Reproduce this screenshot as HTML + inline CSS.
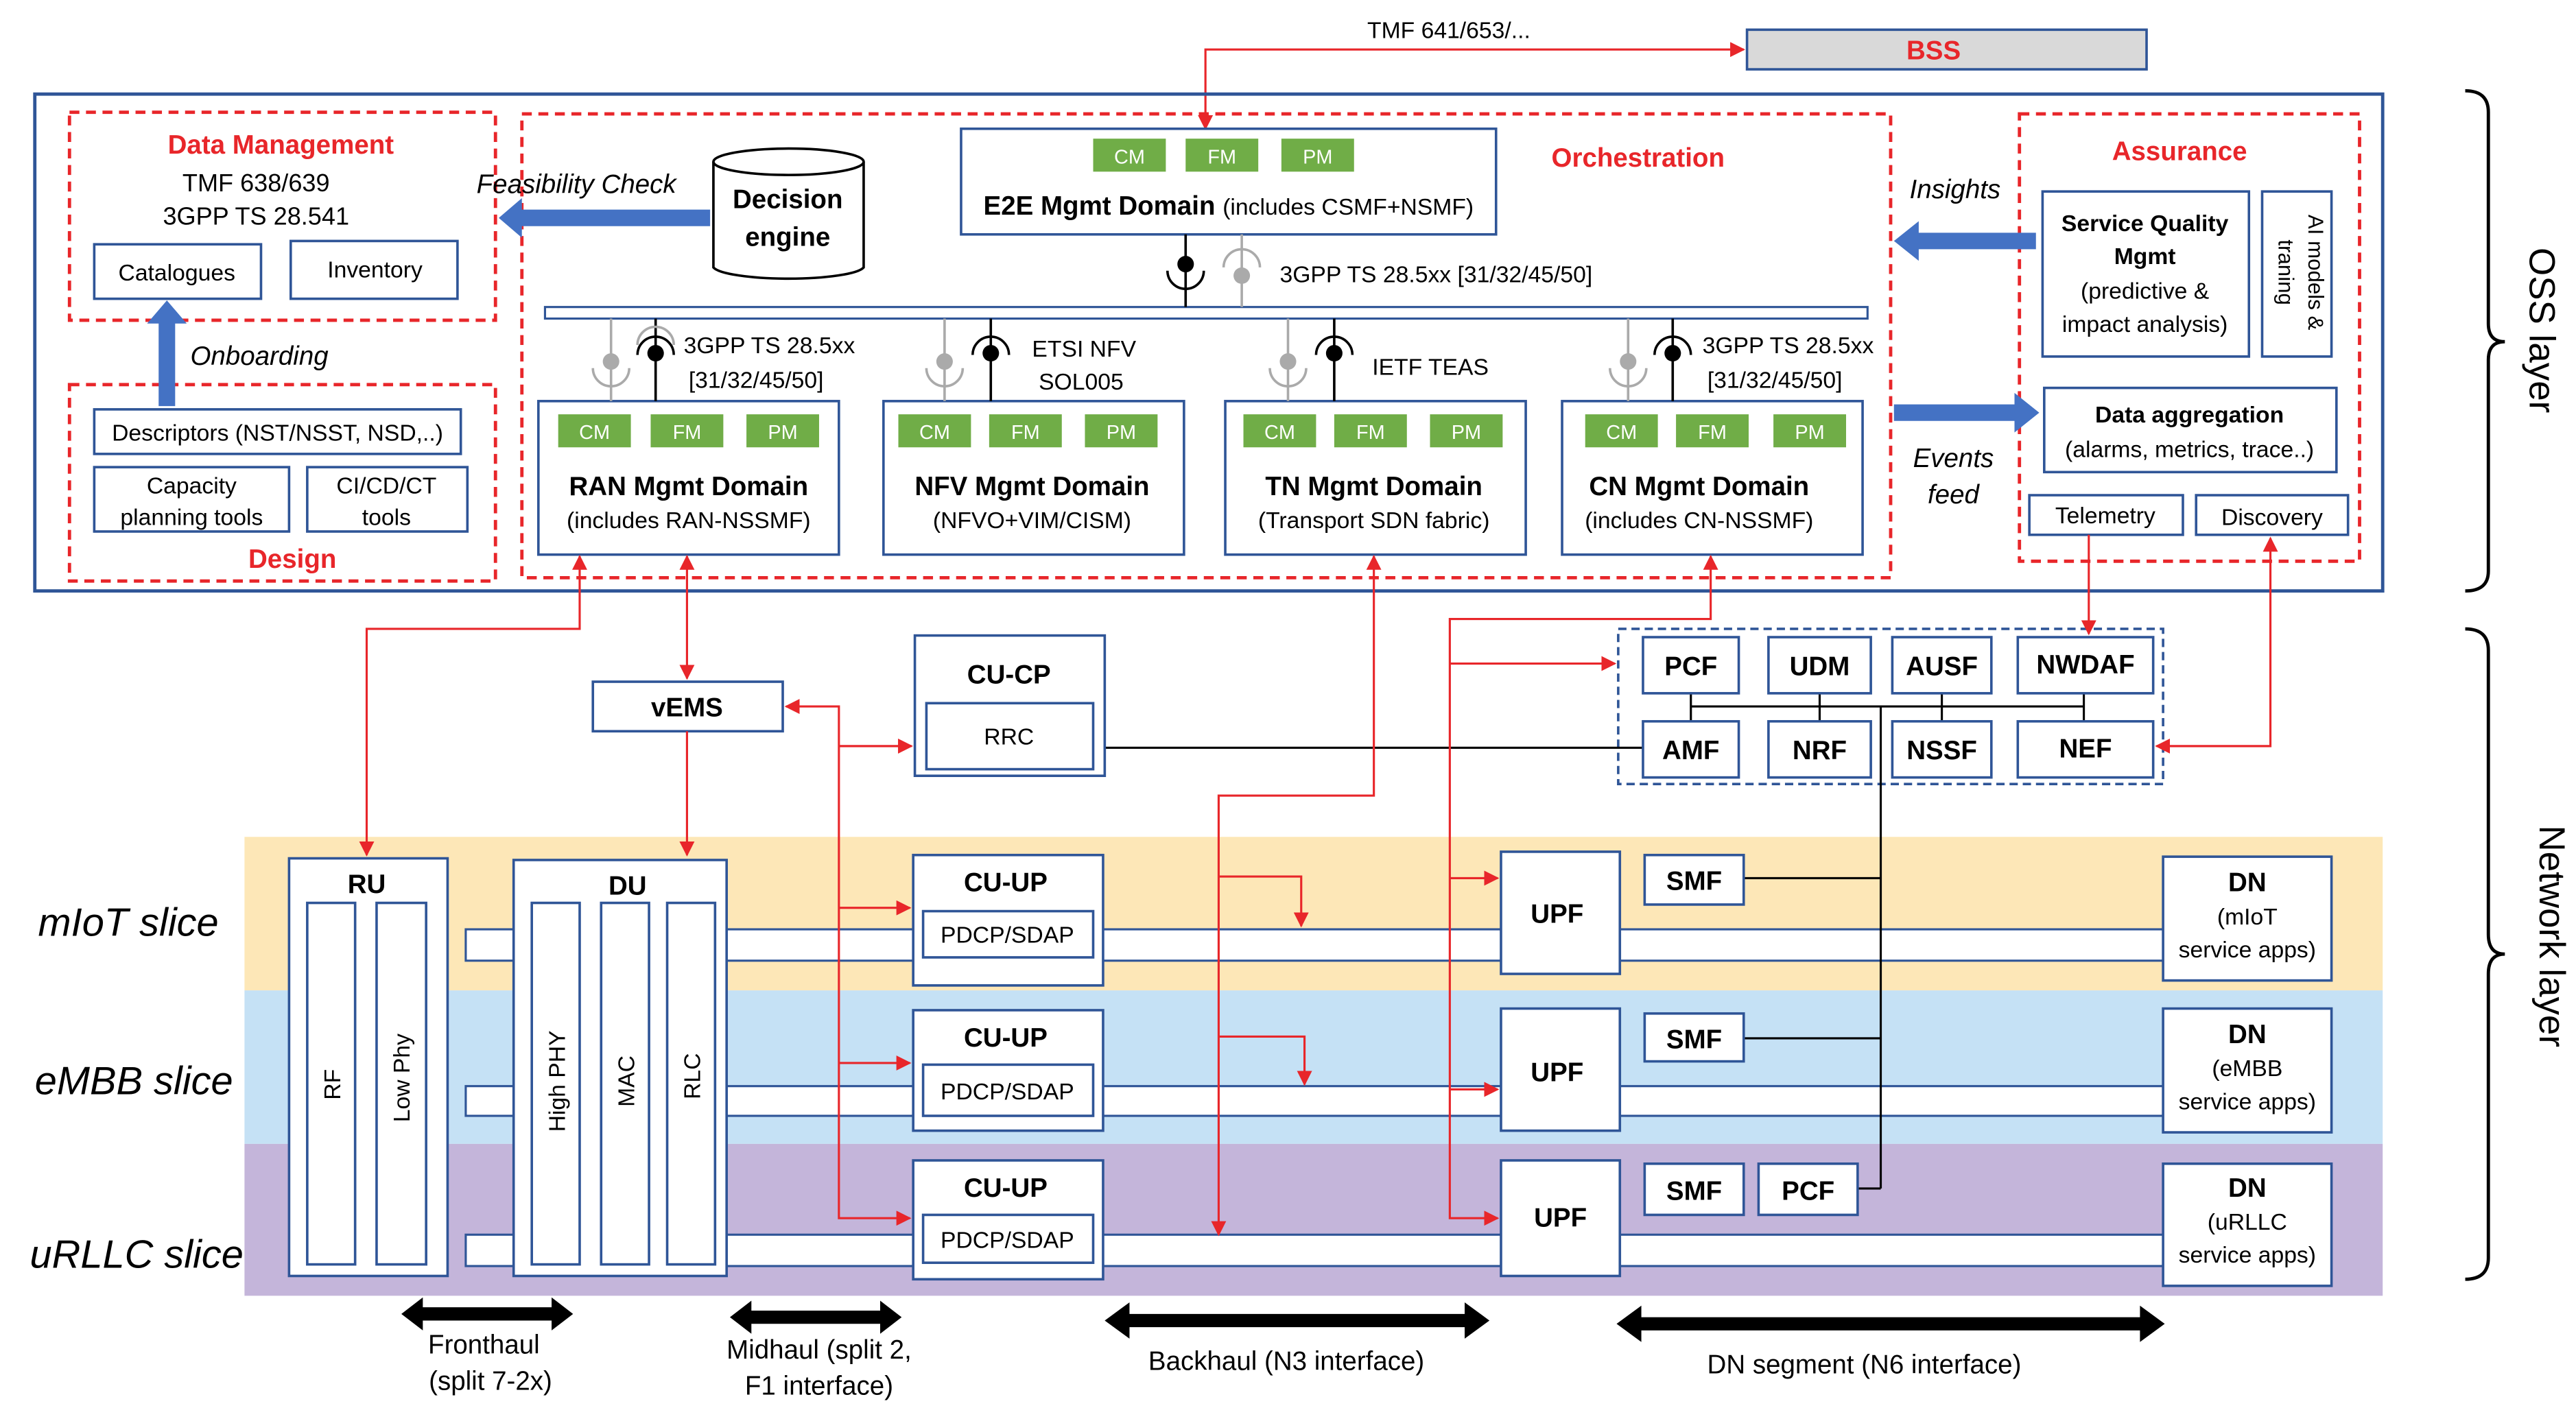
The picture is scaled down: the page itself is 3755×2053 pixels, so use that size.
<!DOCTYPE html>
<html><head><meta charset="utf-8"><style>
html,body{margin:0;padding:0;background:#fff;}
svg{display:block;}
text{font-family:"Liberation Sans",sans-serif;}
</style></head><body>
<svg width="3755" height="2053" viewBox="0 0 1560 853" xmlns="http://www.w3.org/2000/svg">
<defs>
<marker id="ar" viewBox="0 0 10 10" refX="9" refY="5" markerWidth="7" markerHeight="7" orient="auto-start-reverse"><path d="M0,0L10,5L0,10z" fill="#e8262a"/></marker>
</defs>
<rect width="1560" height="853" fill="#fff"/>
<!-- slices -->
<rect x="148" y="507" width="1295" height="93" fill="#fde7b7"/>
<rect x="148" y="600" width="1295" height="93" fill="#c5e1f5"/>
<rect x="148" y="693" width="1295" height="92" fill="#c4b5da"/>
<g font-style="italic" font-size="24" fill="#000">
<text x="23" y="567">mIoT slice</text>
<text x="21" y="663">eMBB slice</text>
<text x="18" y="768">uRLLC  slice</text>
</g>
<!-- pipes -->
<g fill="#fff" stroke="#2f5597" stroke-width="1.3">
<rect x="282" y="563" width="1028" height="19"/>
<rect x="282" y="658" width="1028" height="18"/>
<rect x="282" y="748" width="1028" height="19"/>
</g>
<!-- top BSS -->
<text x="828" y="23" font-size="14">TMF 641/653/...</text>
<rect x="1058" y="18" width="242" height="24" fill="#d9d9d9" stroke="#2f5597" stroke-width="1.5"/>
<text x="1171" y="36" font-size="16" font-weight="bold" fill="#e8262a" text-anchor="middle">BSS</text>
<path d="M730,78 V30 H1056" fill="none" stroke="#e8262a" stroke-width="1.3" marker-start="url(#ar)" marker-end="url(#ar)"/>
<!-- OSS box -->
<rect x="21" y="57" width="1422" height="301" fill="none" stroke="#2f5597" stroke-width="2"/>
<g fill="none" stroke="#e8262a" stroke-width="2" stroke-dasharray="6,4">
<rect x="42" y="68" width="258" height="126"/>
<rect x="42" y="233" width="258" height="119"/>
<rect x="316" y="69" width="829" height="281"/>
<rect x="1223" y="69" width="206" height="271"/>
</g>
<g font-size="15" text-anchor="middle">
<text x="170" y="93" font-size="16" font-weight="bold" fill="#e8262a">Data Management</text>
<text x="155" y="116">TMF 638/639</text>
<text x="155" y="136">3GPP TS 28.541</text>
<text x="177" y="344" font-size="16" font-weight="bold" fill="#e8262a">Design</text>
<text x="992" y="101" font-size="16" font-weight="bold" fill="#e8262a">Orchestration</text>
<text x="1320" y="97" font-size="16" font-weight="bold" fill="#e8262a">Assurance</text>
</g>
<!-- boxes in data mgmt/design -->
<g fill="#fff" stroke="#2f5597" stroke-width="1.5">
<rect x="57" y="148" width="101" height="33"/>
<rect x="176" y="146" width="101" height="35"/>
<rect x="57" y="248" width="222" height="27"/>
<rect x="57" y="283" width="118" height="39"/>
<rect x="186" y="283" width="97" height="39"/>
</g>
<g font-size="14" text-anchor="middle">
<text x="107" y="170">Catalogues</text>
<text x="227" y="168">Inventory</text>
<text x="168" y="267">Descriptors (NST/NSST, NSD,..)</text>
<text x="116" y="299">Capacity</text><text x="116" y="318">planning tools</text>
<text x="234" y="299">CI/CD/CT</text><text x="234" y="318">tools</text>
</g>
<!-- blue arrows -->
<g fill="#4472c4">
<path d="M96,246 V196 H89 L101,182 L113,196 H106 V246 Z"/>
<path d="M430,127 H316 V120 L302,132 L316,144 V137 H430 Z"/>
<path d="M1233,141 H1162 V134 L1147,146 L1162,158 V151 H1233 Z"/>
<path d="M1147,245 H1220 V238 L1235,250 L1220,262 V255 H1147 Z"/>
</g>
<g font-size="16" font-style="italic" text-anchor="middle">
<text x="157" y="221">Onboarding</text>
<text x="349" y="117">Feasibility Check</text>
<text x="1184" y="120">Insights</text>
<text x="1183" y="283">Events</text><text x="1183" y="305">feed</text>
</g>
<!-- decision engine cylinder -->
<path d="M432,98 V162 A46,8 0 0 0 523,162 V98" fill="#fff" stroke="#000" stroke-width="1.5"/>
<ellipse cx="477.5" cy="98" rx="45.5" ry="8" fill="#fff" stroke="#000" stroke-width="1.5"/>
<text x="477" y="126" font-size="16" font-weight="bold" text-anchor="middle">Decision</text>
<text x="477" y="149" font-size="16" font-weight="bold" text-anchor="middle">engine</text>
<!-- E2E -->
<rect x="582" y="78" width="324" height="64" fill="#fff" stroke="#2f5597" stroke-width="1.5"/>
<g fill="#70ad47"><rect x="662" y="84" width="44" height="20"/><rect x="718" y="84" width="44" height="20"/><rect x="776" y="84" width="44" height="20"/></g>
<g fill="#fff" font-size="12" text-anchor="middle"><text x="684" y="99">CM</text><text x="740" y="99">FM</text><text x="798" y="99">PM</text></g>
<text x="744" y="130" font-size="16" text-anchor="middle"><tspan font-weight="bold">E2E Mgmt Domain</tspan> <tspan font-size="14">(includes CSMF+NSMF)</tspan></text>
<!-- bus -->
<rect x="330" y="186" width="801" height="7" fill="#fff" stroke="#2f5597" stroke-width="1.3"/>
<!-- E2E connectors -->
<line x1="718" y1="142" x2="718" y2="186" stroke="#000" stroke-width="1.5"/>
<circle cx="718" cy="160" r="5" fill="#000"/><path d="M707,164 A11,11 0 0 0 729,164" fill="none" stroke="#000" stroke-width="1.5"/>
<line x1="752" y1="142" x2="752" y2="186" stroke="#aaa" stroke-width="1.5"/>
<circle cx="752" cy="167" r="5" fill="#aaa"/><path d="M741,162 A11,11 0 0 1 763,162" fill="none" stroke="#aaa" stroke-width="1.5"/>
<text x="775" y="171" font-size="14">3GPP TS 28.5xx [31/32/45/50]</text>
<!-- domain boxes -->
<g fill="#fff" stroke="#2f5597" stroke-width="1.5">
<rect x="326" y="243" width="182" height="93"/>
<rect x="535" y="243" width="182" height="93"/>
<rect x="742" y="243" width="182" height="93"/>
<rect x="946" y="243" width="182" height="93"/>
</g>
<g fill="#70ad47">
<rect x="338" y="251" width="44" height="20"/><rect x="394" y="251" width="44" height="20"/><rect x="452" y="251" width="44" height="20"/>
<rect x="544" y="251" width="44" height="20"/><rect x="599" y="251" width="44" height="20"/><rect x="657" y="251" width="44" height="20"/>
<rect x="753" y="251" width="44" height="20"/><rect x="808" y="251" width="44" height="20"/><rect x="866" y="251" width="44" height="20"/>
<rect x="960" y="251" width="44" height="20"/><rect x="1015" y="251" width="44" height="20"/><rect x="1074" y="251" width="44" height="20"/>
</g>
<g fill="#fff" font-size="12" text-anchor="middle">
<text x="360" y="266">CM</text><text x="416" y="266">FM</text><text x="474" y="266">PM</text>
<text x="566" y="266">CM</text><text x="621" y="266">FM</text><text x="679" y="266">PM</text>
<text x="775" y="266">CM</text><text x="830" y="266">FM</text><text x="888" y="266">PM</text>
<text x="982" y="266">CM</text><text x="1037" y="266">FM</text><text x="1096" y="266">PM</text>
</g>
<g font-size="16" font-weight="bold" text-anchor="middle">
<text x="417" y="300">RAN Mgmt Domain</text><text x="625" y="300">NFV Mgmt Domain</text>
<text x="832" y="300">TN Mgmt Domain</text><text x="1029" y="300">CN Mgmt Domain</text>
</g>
<g font-size="14" text-anchor="middle">
<text x="417" y="320">(includes RAN-NSSMF)</text><text x="625" y="320">(NFVO+VIM/CISM)</text>
<text x="832" y="320">(Transport SDN fabric)</text><text x="1029" y="320">(includes CN-NSSMF)</text>
</g>
<!-- domain connectors -->
<g id="c">
</g>
<g stroke-width="1.5" fill="none">
<line x1="370" y1="193" x2="370" y2="243" stroke="#aaa"/><line x1="397" y1="193" x2="397" y2="243" stroke="#000"/>
<line x1="572" y1="193" x2="572" y2="243" stroke="#aaa"/><line x1="600" y1="193" x2="600" y2="243" stroke="#000"/>
<line x1="780" y1="193" x2="780" y2="243" stroke="#aaa"/><line x1="808" y1="193" x2="808" y2="243" stroke="#000"/>
<line x1="986" y1="193" x2="986" y2="243" stroke="#aaa"/><line x1="1013" y1="193" x2="1013" y2="243" stroke="#000"/>
<path d="M359,223 A11,11 0 0 0 381,223 M386,209 A11,11 0 0 1 408,209" stroke="#aaa"/>
<path d="M561,223 A11,11 0 0 0 583,223 M769,223 A11,11 0 0 0 791,223 M975,223 A11,11 0 0 0 997,223" stroke="#aaa"/>
<path d="M386,215 A11,11 0 0 1 408,215 M589,215 A11,11 0 0 1 611,215 M797,215 A11,11 0 0 1 819,215 M1002,215 A11,11 0 0 1 1024,215" stroke="#000"/>
</g>
<g fill="#aaa"><circle cx="370" cy="219" r="5"/><circle cx="572" cy="219" r="5"/><circle cx="780" cy="219" r="5"/><circle cx="986" cy="219" r="5"/></g>
<g fill="#000"><circle cx="397" cy="214" r="5"/><circle cx="600" cy="214" r="5"/><circle cx="808" cy="214" r="5"/><circle cx="1013" cy="214" r="5"/></g>
<g font-size="14">
<text x="414" y="214">3GPP TS 28.5xx</text><text x="417" y="235">[31/32/45/50]</text>
<text x="625" y="216">ETSI NFV</text><text x="629" y="236">SOL005</text>
<text x="831" y="227">IETF TEAS</text>
<text x="1031" y="214">3GPP TS 28.5xx</text><text x="1034" y="235">[31/32/45/50]</text>
</g>
<!-- assurance -->
<g fill="#fff" stroke="#2f5597" stroke-width="1.5">
<rect x="1237" y="116" width="125" height="100"/>
<rect x="1370" y="116" width="42" height="100"/>
<rect x="1238" y="235" width="177" height="51"/>
<rect x="1229" y="300" width="93" height="24"/>
<rect x="1330" y="300" width="92" height="24"/>
</g>
<g font-size="14" text-anchor="middle">
<text x="1299" y="140" font-weight="bold">Service Quality</text>
<text x="1299" y="160" font-weight="bold">Mgmt</text>
<text x="1299" y="181">(predictive &amp;</text>
<text x="1299" y="201">impact analysis)</text>
<text x="1326" y="256" font-weight="bold">Data aggregation</text>
<text x="1326" y="277">(alarms, metrics, trace..)</text>
<text x="1275" y="317">Telemetry</text>
<text x="1376" y="318">Discovery</text>
<text transform="translate(1398,165) rotate(90)" font-size="13">AI models &amp;</text>
<text transform="translate(1380,165) rotate(90)" font-size="13">traning</text>
</g>
<!-- braces -->
<path d="M1493,55 Q1507,55 1507,68 V196 Q1507,207 1517,207 Q1507,207 1507,218 V346 Q1507,358 1493,358" fill="none" stroke="#000" stroke-width="2"/>
<path d="M1493,381 Q1507,381 1507,394 V566 Q1507,578 1517,578 Q1507,578 1507,590 V762 Q1507,775 1493,775" fill="none" stroke="#000" stroke-width="2"/>
<text transform="translate(1532,150) rotate(90)" font-size="22">OSS layer</text>
<text transform="translate(1538,500) rotate(90)" font-size="22">Network layer</text>
<!-- core NF -->
<rect x="980" y="381" width="330" height="94" fill="none" stroke="#2f5597" stroke-width="1.5" stroke-dasharray="5,3"/>
<g stroke="#000" stroke-width="1.3" fill="none">
<path d="M1024,420 V437 M1102,420 V437 M1176,420 V437 M1262,420 V437 M1024,428 H1262"/>
<path d="M669,453 H995"/>
<path d="M1139,428 V720 M1056,532 H1139 M1056,629 H1139 M1125,720 H1139"/>
</g>
<g fill="#fff" stroke="#2f5597" stroke-width="1.5">
<rect x="995" y="386" width="58" height="34"/><rect x="1071" y="386" width="62" height="34"/><rect x="1146" y="386" width="60" height="34"/><rect x="1222" y="386" width="82" height="34"/>
<rect x="995" y="437" width="58" height="34"/><rect x="1071" y="437" width="62" height="34"/><rect x="1146" y="437" width="60" height="34"/><rect x="1222" y="437" width="82" height="34"/>
</g>
<g font-size="16" font-weight="bold" text-anchor="middle">
<text x="1024" y="409">PCF</text><text x="1102" y="409">UDM</text><text x="1176" y="409">AUSF</text><text x="1263" y="408">NWDAF</text>
<text x="1024" y="460">AMF</text><text x="1102" y="460">NRF</text><text x="1176" y="460">NSSF</text><text x="1263" y="459">NEF</text>
</g>
<!-- RAN boxes -->
<g fill="#fff" stroke="#2f5597" stroke-width="1.5">
<rect x="175" y="520" width="96" height="253"/>
<rect x="186" y="547" width="29" height="219"/><rect x="228" y="547" width="30" height="219"/>
<rect x="311" y="521" width="129" height="252"/>
<rect x="322" y="547" width="29" height="219"/><rect x="364" y="547" width="29" height="219"/><rect x="404" y="547" width="29" height="219"/>
<rect x="359" y="413" width="115" height="30"/>
<rect x="554" y="385" width="115" height="85"/><rect x="561" y="426" width="101" height="40"/>
<rect x="553" y="518" width="115" height="79"/><rect x="559" y="552" width="103" height="28"/>
<rect x="553" y="612" width="115" height="73"/><rect x="559" y="645" width="103" height="31"/>
<rect x="553" y="703" width="115" height="72"/><rect x="559" y="736" width="103" height="29"/>
<rect x="909" y="516" width="72" height="74"/><rect x="909" y="611" width="72" height="74"/><rect x="909" y="703" width="72" height="70"/>
<rect x="996" y="518" width="60" height="30"/><rect x="996" y="614" width="60" height="29"/><rect x="996" y="705" width="60" height="31"/><rect x="1065" y="705" width="60" height="31"/>
<rect x="1310" y="519" width="102" height="75"/><rect x="1310" y="611" width="102" height="75"/><rect x="1310" y="705" width="102" height="74"/>
</g>
<g font-size="16" font-weight="bold" text-anchor="middle">
<text x="222" y="541">RU</text><text x="380" y="542">DU</text><text x="416" y="434">vEMS</text>
<text x="611" y="414">CU-CP</text>
<text x="609" y="540">CU-UP</text><text x="609" y="634">CU-UP</text><text x="609" y="725">CU-UP</text>
<text x="943" y="559">UPF</text><text x="943" y="655">UPF</text><text x="945" y="743">UPF</text>
<text x="1026" y="539">SMF</text><text x="1026" y="635">SMF</text><text x="1026" y="727">SMF</text><text x="1095" y="727">PCF</text>
<text x="1361" y="540">DN</text><text x="1361" y="632">DN</text><text x="1361" y="725">DN</text>
</g>
<g font-size="14" text-anchor="middle">
<text x="611" y="451">RRC</text>
<text x="610" y="571">PDCP/SDAP</text><text x="610" y="666">PDCP/SDAP</text><text x="610" y="756">PDCP/SDAP</text>
<text x="1361" y="560">(mIoT</text><text x="1361" y="580">service apps)</text>
<text x="1361" y="652">(eMBB</text><text x="1361" y="672">service apps)</text>
<text x="1361" y="745">(uRLLC</text><text x="1361" y="765">service apps)</text>
<text transform="translate(206,657) rotate(-90)">RF</text>
<text transform="translate(248,653) rotate(-90)">Low Phy</text>
<text transform="translate(342,655) rotate(-90)">High PHY</text>
<text transform="translate(384,655) rotate(-90)">MAC</text>
<text transform="translate(424,652) rotate(-90)">RLC</text>
</g>
<!-- red connectors -->
<g fill="none" stroke="#e8262a" stroke-width="1.3">
<path d="M351,337 V381 H222 V518" marker-start="url(#ar)" marker-end="url(#ar)"/>
<path d="M416,337 V411" marker-start="url(#ar)" marker-end="url(#ar)"/>
<path d="M416,443 V518" marker-end="url(#ar)"/>
<path d="M476,428 H508 V738 H551" marker-start="url(#ar)" marker-end="url(#ar)"/>
<path d="M508,452 H552" marker-end="url(#ar)"/>
<path d="M508,550 H551" marker-end="url(#ar)"/>
<path d="M508,644 H551" marker-end="url(#ar)"/>
<path d="M832,337 V482 H738 V748" marker-start="url(#ar)" marker-end="url(#ar)"/>
<path d="M738,531 H788 V561" marker-end="url(#ar)"/>
<path d="M738,628 H790 V657" marker-end="url(#ar)"/>
<path d="M1036,337 V375 H878 V738 H907" marker-start="url(#ar)" marker-end="url(#ar)"/>
<path d="M878,402 H978" marker-end="url(#ar)"/>
<path d="M878,532 H907" marker-end="url(#ar)"/>
<path d="M878,660 H907" marker-end="url(#ar)"/>
<path d="M1265,324 V384" marker-end="url(#ar)"/>
<path d="M1375,326 V452 H1306" marker-start="url(#ar)" marker-end="url(#ar)"/>
</g>
<!-- bottom arrows -->
<g fill="#000">
<path d="M243,796 L256,786 V792 H334 V786 L347,796 L334,806 V800 H256 V806 Z"/>
<path d="M442,798 L455,788 V794 H533 V788 L546,798 L533,808 V802 H455 V808 Z"/>
<path d="M669,800 L684,789 V796 H887 V789 L902,800 L887,811 V804 H684 V811 Z"/>
<path d="M979,802 L994,791 V798 H1296 V791 L1311,802 L1296,813 V806 H994 V813 Z"/>
</g>
<g font-size="16" text-anchor="middle">
<text x="293" y="820">Fronthaul</text><text x="297" y="842">(split 7-2x)</text>
<text x="496" y="823">Midhaul (split 2,</text><text x="496" y="845">F1 interface)</text>
<text x="779" y="830">Backhaul (N3 interface)</text>
<text x="1129" y="832">DN segment (N6 interface)</text>
</g>
</svg>
</body></html>
